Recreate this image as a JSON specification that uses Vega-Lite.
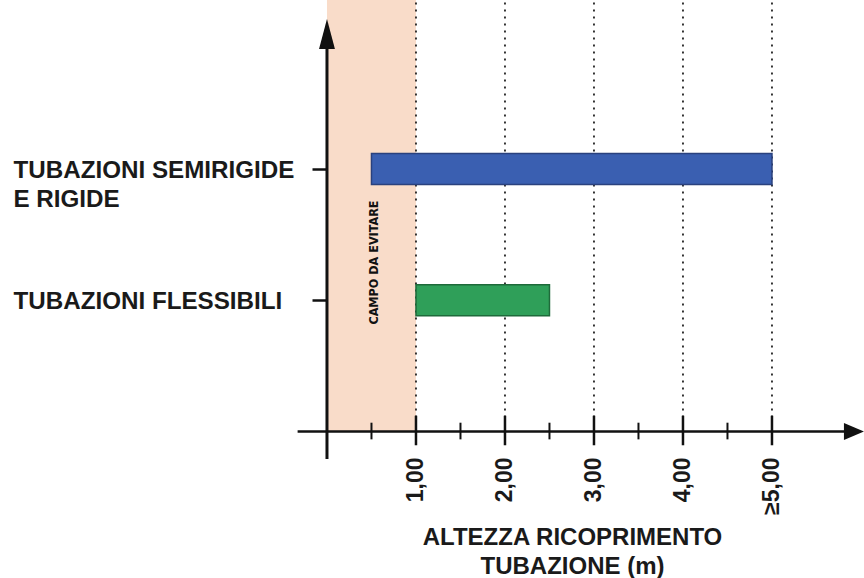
{
  "$schema": "https://vega.github.io/schema/vega-lite/v6.json",
  "width": 864,
  "height": 578,
  "autosize": {"type": "none"},
  "padding": 0,
  "background": "white",
  "config": {"view": {"stroke": null}, "font": "Liberation Sans"},
  "datasets": {
    "bars": [
      {"category": "TUBAZIONI SEMIRIGIDE E RIGIDE", "row": 2, "from": 0.5, "to": 5},
      {"category": "TUBAZIONI FLESSIBILI", "row": 1, "from": 1, "to": 2.5}
    ],
    "zone": [{"from": 0, "to": 1, "label": "CAMPO DA EVITARE"}],
    "major": [{"v": 1}, {"v": 2}, {"v": 3}, {"v": 4}, {"v": 5}],
    "minor": [{"v": 0.5}, {"v": 1.5}, {"v": 2.5}, {"v": 3.5}, {"v": 4.5}]
  },
  "layer": [
    {
      "data": {"name": "zone"},
      "mark": {"type": "rect", "color": "#f9dcc9"},
      "encoding": {
        "x": {"field": "from", "type": "quantitative", "scale": {"domain": [-3.674, 6.034], "nice": false, "zero": false}},
        "x2": {"field": "to"},
        "y": {"datum": 0, "type": "quantitative", "scale": {"domain": [-1.0787, 3.251], "nice": false, "zero": false}},
        "y2": {"datum": 3.4}
      }
    },
    {
      "data": {"name": "zone"},
      "mark": {"type": "text", "angle": 270, "font": "DejaVu Sans Condensed", "fontWeight": "bold", "fontSize": 12.5, "color": "#111111", "align": "center", "baseline": "middle"},
      "encoding": {
        "x": {"datum": 0.53, "type": "quantitative", "scale": {"domain": [-3.674, 6.034], "nice": false, "zero": false}},
        "y": {"datum": 1.288, "type": "quantitative", "scale": {"domain": [-1.0787, 3.251], "nice": false, "zero": false}},
        "text": {"field": "label"}
      }
    },
    {
      "data": {"name": "major"},
      "mark": {"type": "rule", "color": "#222222", "strokeWidth": 1.8, "strokeDash": [2, 5]},
      "encoding": {
        "x": {"field": "v", "type": "quantitative", "scale": {"domain": [-3.674, 6.034], "nice": false, "zero": false}},
        "y": {"datum": 0, "type": "quantitative", "scale": {"domain": [-1.0787, 3.251], "nice": false, "zero": false}},
        "y2": {"datum": 3.4}
      }
    },
    {
      "data": {"name": "bars"},
      "mark": {"type": "bar", "size": 31, "strokeWidth": 1.5},
      "encoding": {
        "x": {
          "field": "from", "type": "quantitative",
          "scale": {"domain": [-3.674, 6.034], "nice": false, "zero": false},
          "axis": {
            "orient": "bottom", "offset": -144, "domain": false, "ticks": false, "grid": false,
            "values": [1, 2, 3, 4, 5],
            "labelExpr": "datum.value == 5 ? '≥5,00' : replace(format(datum.value, '.2f'), '.', ',')",
            "labelAngle": 270, "labelAlign": "right", "labelBaseline": "middle",
            "labelPadding": 23, "labelFontSize": 23, "labelFontWeight": "bold", "labelColor": "#1a1a1a",
            "labelFlush": false, "labelOverlap": false, "labelLimit": 0,
            "title": ["ALTEZZA RICOPRIMENTO", "TUBAZIONE (m)"],
            "titleFontSize": 24, "titleFontWeight": "bold", "titleColor": "#1a1a1a",
            "titleX": 572, "titleY": 110, "titleAlign": "center", "titleBaseline": "alphabetic",
            "titleLineHeight": 29, "titleAngle": 0, "titleLimit": 0
          }
        },
        "x2": {"field": "to"},
        "y": {
          "field": "row", "type": "quantitative",
          "scale": {"domain": [-1.0787, 3.251], "nice": false, "zero": false},
          "axis": {
            "orient": "left", "offset": -327, "domain": false, "grid": false,
            "values": [1, 2],
            "tickSize": 15, "tickWidth": 2.5, "tickColor": "#111111",
            "labelExpr": "datum.value == 2 ? ['TUBAZIONI SEMIRIGIDE', 'E RIGIDE'] : 'TUBAZIONI FLESSIBILI'",
            "labelAlign": "left", "labelBaseline": "alphabetic", "labelOffset": 8.5,
            "labelPadding": 299, "labelFontSize": 24.2, "labelFontWeight": "bold", "labelColor": "#1a1a1a",
            "labelLineHeight": 28.5, "labelFlush": false, "labelOverlap": false, "labelLimit": 0,
            "title": null
          }
        },
        "color": {"field": "category", "type": "nominal", "scale": {"domain": ["TUBAZIONI SEMIRIGIDE E RIGIDE", "TUBAZIONI FLESSIBILI"], "range": ["#3a5fb1", "#2f9f59"]}, "legend": null},
        "stroke": {"field": "category", "type": "nominal", "scale": {"domain": ["TUBAZIONI SEMIRIGIDE E RIGIDE", "TUBAZIONI FLESSIBILI"], "range": ["#2a417e", "#1e6a3a"]}, "legend": null}
      }
    },
    {
      "data": {"values": [{}]},
      "mark": {"type": "rule", "color": "#111111", "strokeWidth": 2.5},
      "encoding": {
        "x": {"datum": -0.33, "type": "quantitative", "scale": {"domain": [-3.674, 6.034], "nice": false, "zero": false}},
        "x2": {"datum": 5.9},
        "y": {"datum": 0, "type": "quantitative", "scale": {"domain": [-1.0787, 3.251], "nice": false, "zero": false}}
      }
    },
    {
      "data": {"values": [{}]},
      "mark": {"type": "rule", "color": "#111111", "strokeWidth": 3},
      "encoding": {
        "x": {"datum": 0, "type": "quantitative", "scale": {"domain": [-3.674, 6.034], "nice": false, "zero": false}},
        "y": {"datum": -0.21, "type": "quantitative", "scale": {"domain": [-1.0787, 3.251], "nice": false, "zero": false}},
        "y2": {"datum": 2.95}
      }
    },
    {
      "data": {"name": "major"},
      "mark": {"type": "rule", "color": "#111111", "strokeWidth": 2.5},
      "encoding": {
        "x": {"field": "v", "type": "quantitative", "scale": {"domain": [-3.674, 6.034], "nice": false, "zero": false}},
        "y": {"datum": 0.12, "type": "quantitative", "scale": {"domain": [-1.0787, 3.251], "nice": false, "zero": false}},
        "y2": {"datum": -0.105}
      }
    },
    {
      "data": {"name": "minor"},
      "mark": {"type": "rule", "color": "#111111", "strokeWidth": 2},
      "encoding": {
        "x": {"field": "v", "type": "quantitative", "scale": {"domain": [-3.674, 6.034], "nice": false, "zero": false}},
        "y": {"datum": 0.067, "type": "quantitative", "scale": {"domain": [-1.0787, 3.251], "nice": false, "zero": false}},
        "y2": {"datum": -0.06}
      }
    },
    {
      "data": {"values": [{}]},
      "mark": {"type": "point", "shape": "M0,-1L0.53,1L-0.53,1Z", "size": 900, "filled": true, "color": "#111111", "opacity": 1, "strokeWidth": 0},
      "encoding": {
        "x": {"datum": 0, "type": "quantitative", "scale": {"domain": [-3.674, 6.034], "nice": false, "zero": false}},
        "y": {"datum": 3.03, "type": "quantitative", "scale": {"domain": [-1.0787, 3.251], "nice": false, "zero": false}}
      }
    },
    {
      "data": {"values": [{}]},
      "mark": {"type": "point", "shape": "M1,0L-1,-0.85L-1,0.85Z", "size": 400, "filled": true, "color": "#111111", "opacity": 1, "strokeWidth": 0},
      "encoding": {
        "x": {"datum": 5.921, "type": "quantitative", "scale": {"domain": [-3.674, 6.034], "nice": false, "zero": false}},
        "y": {"datum": 0, "type": "quantitative", "scale": {"domain": [-1.0787, 3.251], "nice": false, "zero": false}}
      }
    }
  ]
}
